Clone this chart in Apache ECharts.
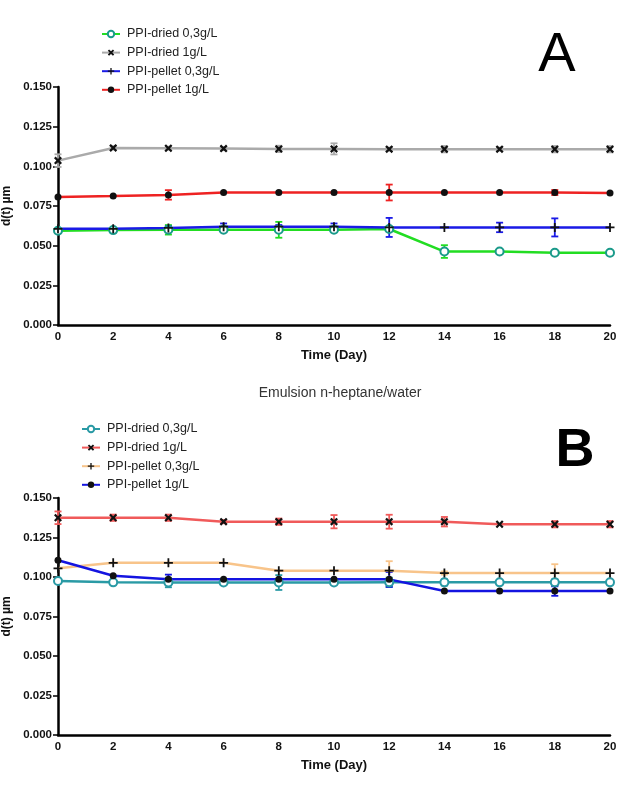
<!DOCTYPE html>
<html>
<head>
<meta charset="utf-8">
<script src="https://cdn.jsdelivr.net/npm/echarts@6/dist/echarts.min.js"></script>
<style>
  html, body { margin: 0; padding: 0; background: #fff; }
  #chart { width: 618px; height: 807px; }
</style>
</head>
<body>
<div id="chart"></div>
<script>
// days on the x axis
var days = [0, 2, 4, 6, 8, 10, 12, 14, 16, 18, 20];

// panel A
var aDried03 = [0.0594, 0.0598, 0.0600, 0.0600, 0.0600, 0.0600, 0.0605, 0.0463, 0.0463, 0.0455, 0.0455];
var aDried1 = [0.1036, 0.1116, 0.1114, 0.1112, 0.1110, 0.1110, 0.1108, 0.1108, 0.1108, 0.1108, 0.1108];
var aPellet03 = [0.0606, 0.0606, 0.0612, 0.0620, 0.0620, 0.0620, 0.0615, 0.0615, 0.0615, 0.0615, 0.0615];
var aPellet1 = [0.0807, 0.0813, 0.0820, 0.0835, 0.0835, 0.0835, 0.0835, 0.0835, 0.0835, 0.0835, 0.0832];
var aDried03Err = [0, 0.001, 0.003, 0.001, 0.005, 0.001, 0.001, 0.004, 0.001, 0.001, 0.001];
var aDried1Err = [0.004, 0.001, 0.001, 0.001, 0.002, 0.0035, 0.001, 0.002, 0.001, 0.002, 0.002];
var aPellet03Err = [0, 0, 0.001, 0.002, 0.001, 0.002, 0.006, 0, 0.003, 0.0057, 0];
var aPellet1Err = [0, 0, 0.003, 0, 0, 0, 0.005, 0, 0, 0.0016, 0];

// panel B
var bDried03 = [0.0975, 0.0966, 0.0965, 0.0965, 0.0965, 0.0965, 0.0966, 0.0966, 0.0966, 0.0966, 0.0966];
var bDried1 = [0.1375, 0.1375, 0.1375, 0.1350, 0.1350, 0.1350, 0.1350, 0.1350, 0.1334, 0.1334, 0.1334];
var bPellet03 = [0.1055, 0.1090, 0.1090, 0.1090, 0.1040, 0.1040, 0.1040, 0.1025, 0.1025, 0.1025, 0.1025];
var bPellet1 = [0.1106, 0.1008, 0.0985, 0.0985, 0.0985, 0.0985, 0.0985, 0.0911, 0.0911, 0.0911, 0.0911];
var bDried03Err = [0, 0.001, 0.003, 0.001, 0.0047, 0.001, 0.003, 0.002, 0.001, 0.002, 0.001];
var bDried1Err = [0.004, 0.002, 0.002, 0.001, 0.002, 0.0042, 0.0044, 0.003, 0, 0.002, 0.002];
var bPellet03Err = [0, 0, 0, 0, 0, 0, 0.006, 0.001, 0, 0.0056, 0];
var bPellet1Err = [0, 0, 0.003, 0, 0, 0, 0.0047, 0, 0, 0.003, 0];

var names = ['PPI-dried 0,3g/L', 'PPI-dried 1g/L', 'PPI-pellet 0,3g/L', 'PPI-pellet 1g/L'];
var namesB = names.map(function (n) { return n + ' '; });

var xSym = 'path://M0,4L4,0L10,6L16,0L20,4L14,10L20,16L16,20L10,14L4,20L0,16L6,10Z';
var plusSym = 'path://M8,0H12V8H20V12H12V20H8V12H0V8H8Z';

function pairs(vals) {
  return days.map(function (d, i) { return [d, vals[i]]; });
}
function triples(vals, errs) {
  return days.map(function (d, i) { return [d, vals[i], errs[i]]; });
}

function lineSeries(name, idx, vals, lineColor, symbol, symColor, size, empty) {
  return {
    type: 'line', name: name, xAxisIndex: idx, yAxisIndex: idx,
    data: pairs(vals), symbol: symbol, symbolSize: size, showAllSymbol: true,
    lineStyle: { color: lineColor, width: 2.5 },
    itemStyle: empty ? { color: symColor, borderColor: symColor, borderWidth: 2 } : { color: symColor, borderWidth: 0 },
    z: 3, animation: false
  };
}

function errSeries(idx, vals, errs, color) {
  return {
    type: 'custom', xAxisIndex: idx, yAxisIndex: idx, z: 2, silent: true,
    data: triples(vals, errs),
    renderItem: function (params, api) {
      var e = api.value(2);
      if (!e) return null;
      var x = api.value(0), y = api.value(1);
      var top = api.coord([x, y + e]);
      var bot = api.coord([x, y - e]);
      var w = 3.5;
      var st = { stroke: color, lineWidth: 1.8 };
      return {
        type: 'group',
        children: [
          { type: 'line', shape: { x1: top[0], y1: top[1], x2: bot[0], y2: bot[1] }, style: st },
          { type: 'line', shape: { x1: top[0] - w, y1: top[1], x2: top[0] + w, y2: top[1] }, style: st },
          { type: 'line', shape: { x1: bot[0] - w, y1: bot[1], x2: bot[0] + w, y2: bot[1] }, style: st }
        ]
      };
    },
    animation: false
  };
}

var labelFont = 'Liberation Sans, Arial, sans-serif';

function xAxis(idx) {
  return {
    type: 'value', gridIndex: idx, min: 0, max: 20, interval: 2,
    name: 'Time (Day)', nameLocation: 'middle', nameGap: 24,
    nameTextStyle: { fontFamily: labelFont, fontWeight: 'bold', fontSize: 13, color: '#111' },
    axisLine: { lineStyle: { color: '#000', width: 2.5 } },
    axisTick: { show: false },
    axisLabel: { fontFamily: labelFont, fontWeight: 'bold', fontSize: 11.5, color: '#111', margin: 6 },
    splitLine: { show: false }
  };
}
function yAxis(idx) {
  return {
    type: 'value', gridIndex: idx, min: 0, max: 0.15, interval: 0.025,
    name: 'd(t) µm', nameLocation: 'middle', nameGap: 32,
    nameTextStyle: { fontFamily: labelFont, fontWeight: 'bold', fontSize: 12, color: '#111' },
    axisLine: { show: true, lineStyle: { color: '#000', width: 2.5 } },
    axisTick: { show: true, length: 5, lineStyle: { color: '#000', width: 1.5 } },
    axisLabel: { fontFamily: labelFont, fontWeight: 'bold', fontSize: 11.5, color: '#111', margin: 6,
      formatter: function (v) { return v.toFixed(3); } },
    splitLine: { show: false }
  };
}

var legendText = { fontFamily: labelFont, fontSize: 12.5, color: '#222', lineHeight: 14, padding: [0, 0, 0, 2] };

var option = {
  animation: false,
  backgroundColor: '#fff',
  grid: [
    { left: 58, top: 87, width: 552, height: 238, outerBoundsMode: 'none' },
    { left: 58, top: 498, width: 552, height: 237, outerBoundsMode: 'none' }
  ],
  xAxis: [xAxis(0), xAxis(1)],
  yAxis: [yAxis(0), yAxis(1)],
  legend: [
    { data: names, orient: 'vertical', left: 96, top: 22, itemWidth: 18, itemHeight: 8, itemGap: 4.6,
      textStyle: legendText, selectedMode: false },
    { data: namesB, orient: 'vertical', left: 76, top: 417, itemWidth: 18, itemHeight: 8, itemGap: 4.6,
      textStyle: legendText, selectedMode: false }
  ],
  graphic: [
    { type: 'text',
      style: { text: 'A', font: '56px Liberation Sans, Arial, sans-serif', fill: '#000',
        textAlign: 'center', textVerticalAlign: 'middle' }, position: [557, 55.5] },
    { type: 'text',
      style: { text: 'B', font: 'bold 54px Liberation Sans, Arial, sans-serif', fill: '#000',
        textAlign: 'center', textVerticalAlign: 'middle' }, position: [575, 451.5] },
    { type: 'text',
      style: { text: 'Emulsion n-heptane/water', font: '14px Liberation Sans, Arial, sans-serif', fill: '#333',
        textAlign: 'center', textVerticalAlign: 'middle' }, position: [340, 393] }
  ],
  series: [
    errSeries(0, aDried03, aDried03Err, '#22dd22'),
    errSeries(0, aDried1, aDried1Err, '#aaaaaa'),
    errSeries(0, aPellet03, aPellet03Err, '#1a1ae6'),
    errSeries(0, aPellet1, aPellet1Err, '#ee2222'),
    lineSeries(names[0], 0, aDried03, '#22dd22', 'emptyCircle', '#1a9a8a', 8, true),
    lineSeries(names[1], 0, aDried1, '#aaaaaa', xSym, '#111', 8, false),
    lineSeries(names[2], 0, aPellet03, '#1a1ae6', plusSym, '#111', 9, false),
    lineSeries(names[3], 0, aPellet1, '#ee2222', 'circle', '#111', 7, false),

    errSeries(1, bDried03, bDried03Err, '#2a9aa5'),
    errSeries(1, bDried1, bDried1Err, '#f05a5a'),
    errSeries(1, bPellet03, bPellet03Err, '#f8c48a'),
    errSeries(1, bPellet1, bPellet1Err, '#1414e0'),
    lineSeries(namesB[0], 1, bDried03, '#2a9aa5', 'emptyCircle', '#2a9aa5', 8, true),
    lineSeries(namesB[1], 1, bDried1, '#f05a5a', xSym, '#111', 8, false),
    lineSeries(namesB[2], 1, bPellet03, '#f8c48a', plusSym, '#111', 9, false),
    lineSeries(namesB[3], 1, bPellet1, '#1414e0', 'circle', '#111', 7, false)
  ]
};

var myChart = echarts.init(document.getElementById('chart'));
myChart.setOption(option);
</script>
</body>
</html>
